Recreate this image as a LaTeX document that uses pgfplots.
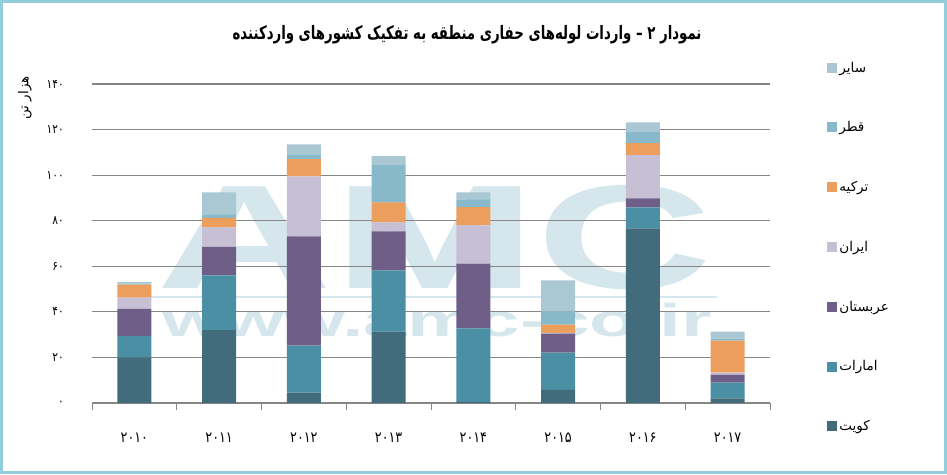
\documentclass[border=0pt]{standalone}
\usepackage{fontspec}
\usepackage{pgfplots}
\pgfplotsset{compat=1.18}
\TeXXeTstate=1
\setmainfont{DejaVu Sans}
\newfontfamily\arabicfont[Script=Arabic]{DejaVu Sans}
\newfontfamily\digfont[Script=Arabic,FakeStretch=0.85]{DejaVu Sans}
\newfontfamily\titlefont[Script=Arabic,FakeStretch=0.72]{DejaVu Sans}
\newfontfamily\wmfont{Liberation Sans}
\definecolor{cKuw}{HTML}{426C7B}
\definecolor{cUae}{HTML}{4A8FA3}
\definecolor{cSau}{HTML}{6F5E88}
\definecolor{cIra}{HTML}{C7C0D5}
\definecolor{cTur}{HTML}{EC9F5C}
\definecolor{cQat}{HTML}{88B9CB}
\definecolor{cOth}{HTML}{A9C8D4}
\definecolor{wm}{HTML}{D5E7ED}
\definecolor{frame}{HTML}{92CDDC}
\definecolor{gridc}{HTML}{868686}
\begin{document}
\begin{tikzpicture}
\useasboundingbox (0,0) rectangle (947pt,474pt);
% watermark
\node[text=wm, inner sep=0pt, xscale=1.65, font=\wmfont\bfseries\fontsize{148}{148}\selectfont] at (435pt,236pt) {AMC};
\fill[wm] (150pt,176pt) rectangle (717pt,178pt);
\node[text=wm, inner sep=0pt, anchor=base, xscale=1.7, font=\wmfont\bfseries\fontsize{46}{46}\selectfont] at (437pt,137pt) {www.amc-co.ir};
\begin{axis}[
  at={(92pt,71pt)}, anchor=south west,
  scale only axis, width=678pt, height=319pt,
  ybar stacked, bar width=34pt,
  xmin=-0.5, xmax=7.5, ymin=0, ymax=140,
  axis x line*=bottom, axis y line*=left,
  y axis line style={draw=none},
  x axis line style={draw=gridc, line width=1pt},
  xtick={-0.5,0.5,...,7.5},
  x tick label as interval,
  xticklabels={۲۰۱۰,۲۰۱۱,۲۰۱۲,۲۰۱۳,۲۰۱۴,۲۰۱۵,۲۰۱۶,۲۰۱۷},
  xticklabel style={font=\digfont\fontsize{15}{15}\selectfont, yshift=-19pt},
  x tick style={draw=gridc, line width=1pt},
  tick align=outside, major tick length=7pt,
  ytick={0,20,...,140},
  yticklabels={۰,۲۰,۴۰,۶۰,۸۰,۱۰۰,۱۲۰,۱۴۰},
  yticklabel style={font=\digfont\fontsize{12.5}{12.5}\selectfont, anchor=east, inner sep=0pt, xshift=-21pt},
  y tick style={draw=none},
  ymajorgrids, grid style={draw=gridc, line width=1.2pt},
  area legend,
  legend image code/.code={\fill[#1] (0pt,-5pt) rectangle (10pt,5pt);},
  reverse legend,
  legend style={draw=none, fill=none, at={(1.08,0.489)}, anchor=west,
    font=\arabicfont\fontsize{13.5}{15}\selectfont, row sep=44pt,
    cells={anchor=west}},
  legend cell align=left,
]
\addplot[fill=cKuw, draw=none] coordinates {(0,20) (1,32) (2,4.5) (3,31.3) (4,0.5) (5,5.8) (6,76.6) (7,2.0)};
\addplot[fill=cUae, draw=none] coordinates {(0,9.5) (1,24) (2,20.7) (3,26.9) (4,32.2) (5,16.3) (6,9.2) (7,6.9)};
\addplot[fill=cSau, draw=none] coordinates {(0,11.8) (1,12.5) (2,47.9) (3,17.1) (4,28.5) (5,8.4) (6,4.0) (7,3.5)};
\addplot[fill=cIra, draw=none] coordinates {(0,4.9) (1,8.6) (2,26.4) (3,4.0) (4,16.7) (5,0.3) (6,19.0) (7,0.9)};
\addplot[fill=cTur, draw=none] coordinates {(0,5.7) (1,4.1) (2,7.5) (3,8.7) (4,8.1) (5,3.6) (6,5.2) (7,14.1)};
\addplot[fill=cQat, draw=none] coordinates {(0,0.5) (1,1.6) (2,2.1) (3,16.7) (4,3.4) (5,5.7) (6,4.9) (7,0.9)};
\addplot[fill=cOth, draw=none] coordinates {(0,0.6) (1,9.6) (2,4.4) (3,3.6) (4,3.0) (5,13.7) (6,4.3) (7,3.0)};
\legend{{\beginR کویت\endR},{\beginR امارات\endR},{\beginR عربستان\endR},{\beginR ایران\endR},{\beginR ترکیه\endR},{\beginR قطر\endR},{\beginR سایر\endR}}
\end{axis}
\node[font=\titlefont\bfseries\fontsize{18.5}{21}\selectfont] at (467pt,439pt) {\beginR نمودار ۲ – واردات لوله‌های حفاری منطقه به تفکیک کشورهای واردکننده\endR};
\node[rotate=90, font=\arabicfont\fontsize{13.5}{15}\selectfont] at (25pt,376pt) {\beginR هزار تن\endR};
\draw[frame, line width=3pt] (1.5pt,1.5pt) rectangle (945.5pt,472.5pt);
\end{tikzpicture}
\end{document}
